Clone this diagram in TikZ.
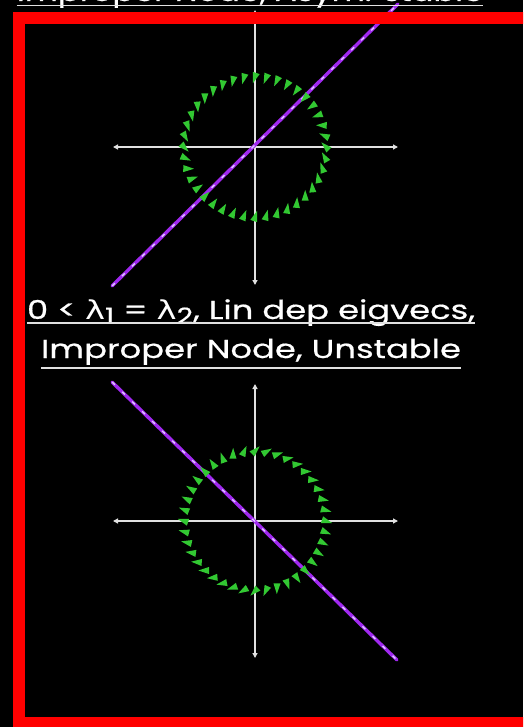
\documentclass[tikz,border=0pt]{standalone}
\usepackage{fontspec}
\setmainfont{Poppins}
\newfontfamily\titlefont{Poppins}[FakeBold=0.5]
\newfontfamily\greekfont{DejaVu Sans}
\usetikzlibrary{calc,arrows.meta}
\definecolor{framered}{RGB}{255,0,0}
\definecolor{axisgray}{RGB}{225,225,225}
\definecolor{eigpurple}{RGB}{160,40,240}
\definecolor{eiglight}{RGB}{225,200,255}
\definecolor{arrowgreen}{RGB}{50,200,50}
\tikzset{
  axis/.style={draw=axisgray, line width=1.3pt, {Triangle[width=5pt,length=5pt]}-{Triangle[width=5pt,length=5pt]}},
  eig/.style={draw=eigpurple, line width=3.4pt, line cap=round},
  eigdash/.style={draw=eiglight, line width=1.4pt, dash pattern=on 4pt off 10pt},
  title/.style={text=white, inner sep=0pt, anchor=base, font=\titlefont\fontsize{26}{30}\selectfont},
  uline/.style={draw=axisgray, line width=1.4pt},
  redframe/.style={draw=framered, line width=12pt}
}
\newcommand{\lam}{{\greekfont λ}}
\newcommand{\subd}[1]{\raisebox{-0.18em}{\fontsize{22}{22}\selectfont #1}}
\newcommand{\wide}[1]{\scalebox{1.3}[1]{#1}}
\begin{document}
\begin{tikzpicture}[x=1pt,y=-1pt]
\useasboundingbox (0,0) rectangle (523,727);
\clip (0,0) rectangle (523,727);
\fill[black] (0,0) rectangle (523,727);

% ---------- top plot ----------
\coordinate (tl) at (113,147);
\coordinate (tr) at (398,147);
\coordinate (tt) at (255,10);
\coordinate (tb) at (255,285);
\draw[axis] (tl) -- (tr);
\draw[axis] (tb) -- (tt);
\coordinate (te1) at (112,286);
\coordinate (te2) at (398,4);
\draw[eig] (te1) -- (te2);
\draw[eigdash] (te1) -- (te2);
\foreach \i in {0,...,39}{
  \pgfmathsetmacro\mycos{cos(\i*9)}
  \pgfmathsetmacro\mysin{sin(\i*9)}
  \pgfmathsetmacro\fx{-\mycos + 0.5*(\mycos-\mysin)}
  \pgfmathsetmacro\fy{-\mysin + 0.5*(\mycos-\mysin)}
  \pgfmathsetmacro\ph{atan2(-\fy,\fx)}
  \coordinate (m) at (255+71*\mycos, 147-70*\mysin);
  \fill[arrowgreen] ($(m)+(\ph:6.5)$) -- ($(m)+(\ph+140:5.5)$) -- ($(m)+(\ph-140:5.5)$) -- cycle;
}

% ---------- bottom plot ----------
\coordinate (bl) at (113,521);
\coordinate (br) at (398,521);
\coordinate (bt) at (255,384);
\coordinate (bb) at (255,658);
\draw[axis] (bl) -- (br);
\draw[axis] (bb) -- (bt);
\coordinate (be1) at (112,382);
\coordinate (be2) at (397,660);
\draw[eig] (be1) -- (be2);
\draw[eigdash] (be1) -- (be2);
\foreach \i in {0,...,39}{
  \pgfmathsetmacro\mycos{cos(\i*9)}
  \pgfmathsetmacro\mysin{sin(\i*9)}
  \pgfmathsetmacro\fx{\mycos + 0.5*(\mycos+\mysin)}
  \pgfmathsetmacro\fy{\mysin - 0.5*(\mycos+\mysin)}
  \pgfmathsetmacro\ph{atan2(-\fy,\fx)}
  \coordinate (m) at (255+71*\mycos, 521-70*\mysin);
  \fill[arrowgreen] ($(m)+(\ph:6.5)$) -- ($(m)+(\ph+140:5.5)$) -- ($(m)+(\ph-140:5.5)$) -- cycle;
}

% ---------- red frame ----------
\draw[redframe] (19,18) rectangle (560,723);

% ---------- texts ----------
\node[title] (t0) at (250,1) {\scalebox{1.24}[1]{Improper Node, Asym. stable}};
\draw[uline] ([yshift=-4.5pt]t0.base west) -- ([yshift=-4.5pt]t0.base east);
\node[title] (t1) at (251,319) {\wide{0 < \lam\subd{1} = \lam\subd{2}, Lin dep eigvecs,}};
\draw[uline] ([yshift=-4pt]t1.base west) -- ([yshift=-4pt]t1.base east);
\node[title] (t2) at (251,358) {\wide{Improper Node, Unstable}};
\draw[uline] ([yshift=-10pt]t2.base west) -- ([yshift=-10pt]t2.base east);
\end{tikzpicture}
\end{document}
